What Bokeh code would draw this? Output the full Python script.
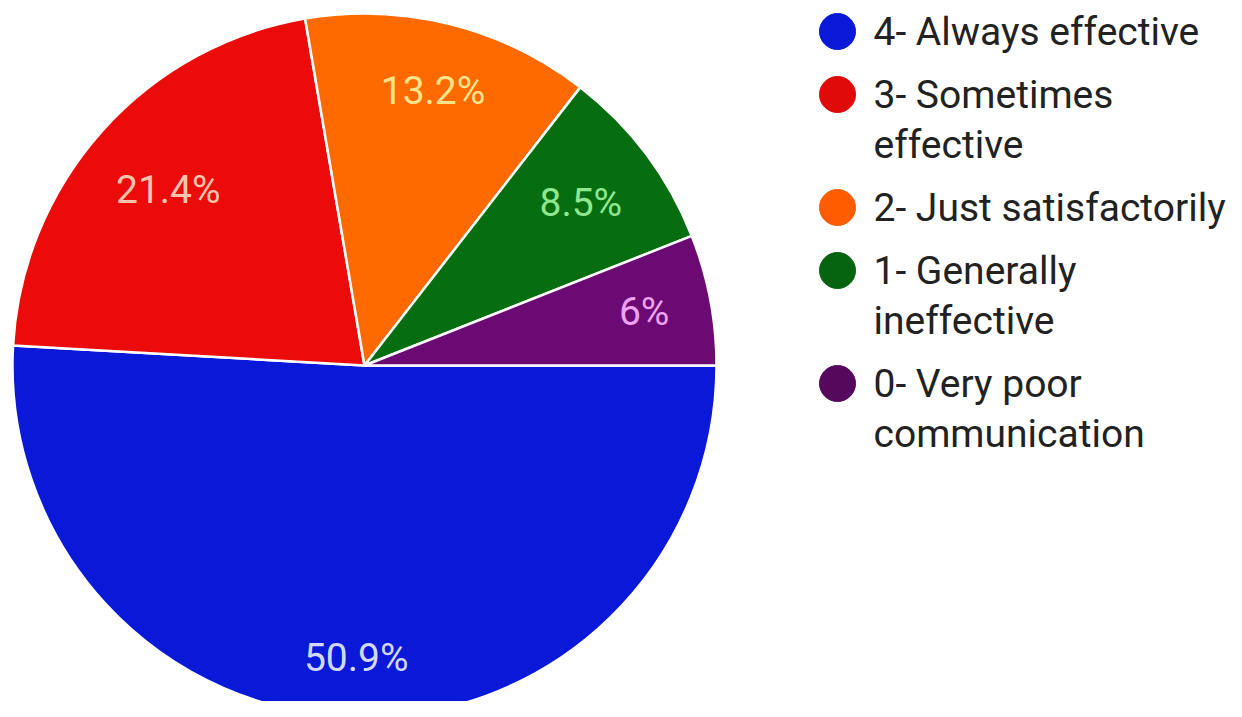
import math
from bokeh.plotting import figure
from bokeh.models import Range1d, ColumnDataSource
from bokeh.core.properties import value
from bokeh.embed import file_html
from bokeh.resources import INLINE

# ---- data ----
categories = ["4- Always effective", "3- Sometimes\neffective", "2- Just satisfactorily",
              "1- Generally\nineffective", "0- Very poor\ncommunication"]
percents = [50.9, 21.4, 13.2, 8.5, 6]
colors = ["#0a19d7", "#ec0b0b", "#ff6a00", "#066d10", "#6a0a72"]
label_colors = ["#d2d8ff", "#ffc4ae", "#ffe48c", "#8fe88f", "#f0a2f2"]
legend_colors = ["#0a19d7", "#e00a0a", "#ff5c00", "#066410", "#55085c"]

# ---- layout (pixel units, figure origin = picture origin) ----
W, H = 1226, 701
CX, CY = 364, 365          # pie centre
R = 352
LABEL_FS = 39
LEGEND_FS = 39

p = figure(width=W, height=H, output_backend="svg", toolbar_location=None,
           x_range=Range1d(-CX, W - CX), y_range=Range1d(CY - H, CY),
           min_border=0)
p.axis.visible = False
p.grid.visible = False
p.outline_line_color = None
p.background_fill_color = "white"
p.border_fill_color = "white"

total = sum(percents)
starts, ends, mids = [], [], []
cum = 0.0
for v in percents:
    a0 = -cum / total * 2 * math.pi
    cum += v
    a1 = -cum / total * 2 * math.pi
    starts.append(a1)
    ends.append(a0)
    mids.append((a0 + a1) / 2)

src = ColumnDataSource(dict(start=starts, end=ends, color=colors))
p.wedge(x=0, y=0, radius=R, start_angle="start", end_angle="end", fill_color="color",
        line_color="white", line_width=2.5, source=src)

# label placement: farthest corner of the text box sits at a fixed radius
CHAR_W = {"0": .562, "1": .562, "2": .562, "3": .562, "4": .562, "5": .562, "6": .562,
          "7": .562, "8": .562, "9": .562, ".": .263, "%": .733}
RL = 0.887 * R
texts = [f"{v:g}%" for v in percents]
lxs, lys = [], []
for t, m in zip(texts, mids):
    w = sum(CHAR_W.get(ch, .55) for ch in t) * LABEL_FS
    h = 0.711 * LABEL_FS
    c, s = math.cos(m), math.sin(m)
    a = math.copysign(w / 2, c)
    b = math.copysign(h / 2, s)
    k = c * a + s * b
    d = -k + math.sqrt(k * k - (a * a + b * b - RL * RL))
    lxs.append(d * c)
    lys.append(d * s)
lab = ColumnDataSource(dict(x=lxs, y=lys, t=texts, c=label_colors))
p.text(x="x", y="y", text="t", text_color="c", source=lab, text_align="center",
       text_baseline="middle", text_font=value("Roboto"), text_font_size=f"{LABEL_FS}px")

# ---- legend ----
tx, cxl = 873 - CX, 837 - CX
base = 45
lx, ly, lt, mx, my, mc = [], [], [], [], [], []
for cat, col in zip(categories, legend_colors):
    lines = cat.split("\n")
    mx.append(cxl)
    my.append(CY - (base - 14))
    mc.append(col)
    for k, ln in enumerate(lines):
        lx.append(tx)
        ly.append(CY - (base + 50 * k - 13.5))
        lt.append(ln)
    base = base + 50 * (len(lines) - 1) + 63

p.scatter(x=mx, y=my, size=36, color=mc, marker="circle")
p.text(x=lx, y=ly, text=lt, text_color="#222222", text_font=value("Roboto"),
       text_font_size=f"{LEGEND_FS}px", text_baseline="middle", text_align="left")

open("out.html", "w").write(file_html(p, INLINE))
